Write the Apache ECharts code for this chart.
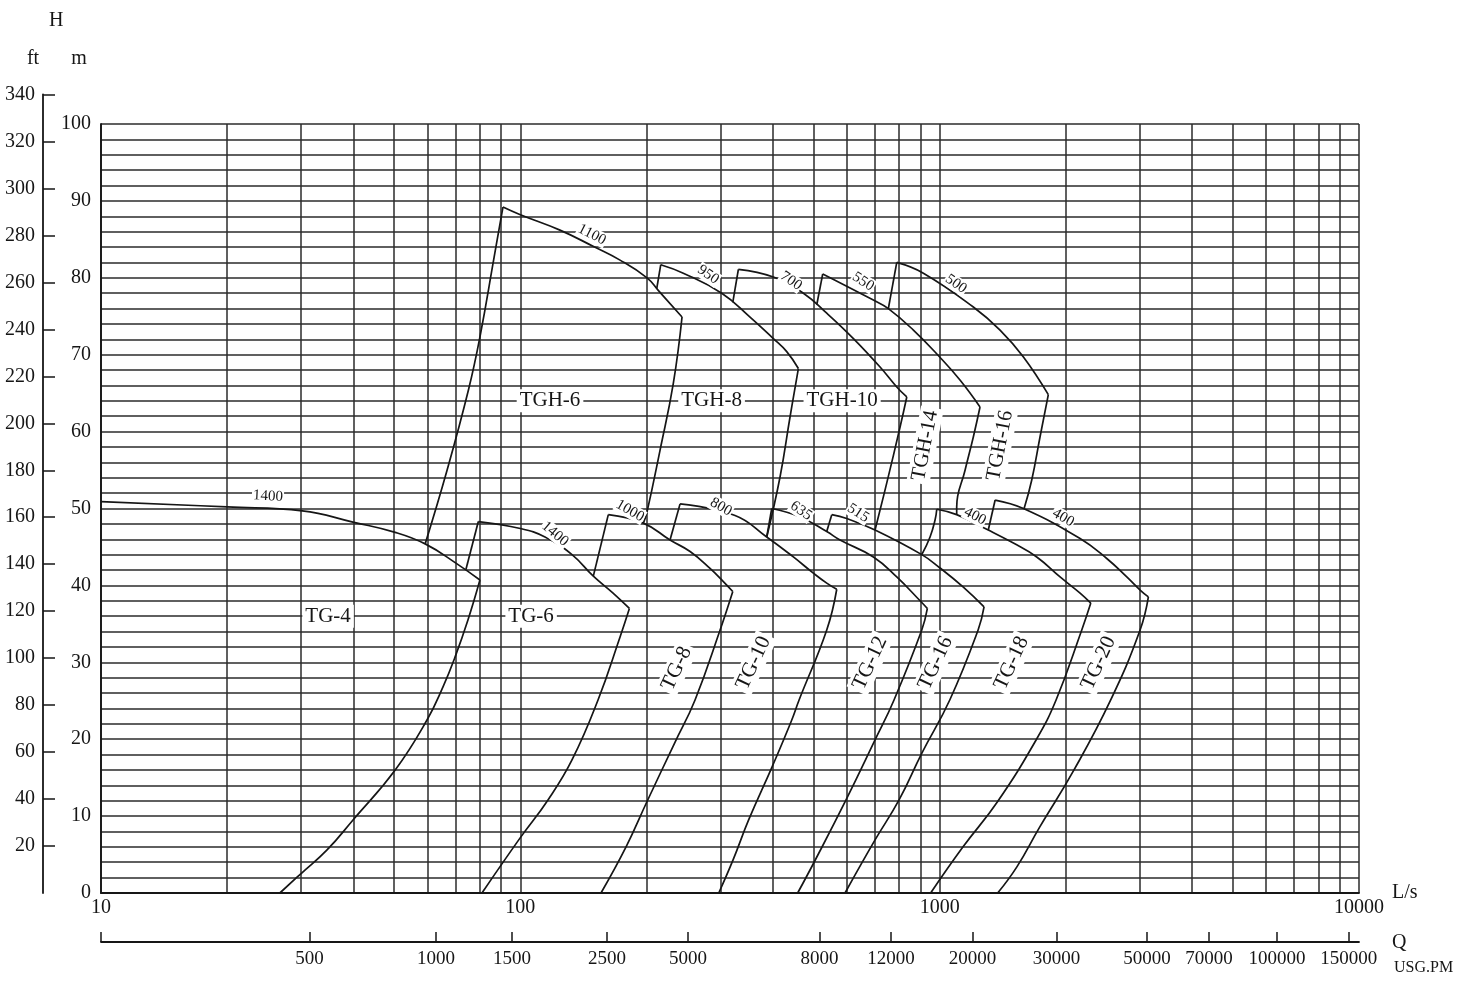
<!DOCTYPE html>
<html><head><meta charset="utf-8">
<script src="https://cdn.jsdelivr.net/npm/echarts@6/dist/echarts.min.js"></script>
<style>html,body{margin:0;padding:0;background:#fff}#c{width:1461px;height:994px}</style>
</head><body><div id="c"></div>
<script>
// ---------- axis tick data ----------
const xGridValues = [10,20,30,40,50,60,70,80,90,100,200,300,400,500,600,700,800,900,1000,2000,3000,4000,5000,6000,7000,8000,9000,10000];
const xLabelValues = [10,100,1000,10000];
const usgLabels = ['500','1000','1500','2500','5000','8000','12000','20000','30000','50000','70000','100000','150000'];
const usgTickLs = [31.4,62.9,95.5,161,251,517,765,1198,1900,3123,4390,6378,9456];

// ---------- pump curves [Q (L/s), H (m)] ----------
const tg4Top = [[10,50.9],[20,50.2],[30.2,49.7],[40.1,48.2],[50.3,46.9],[59.3,45.4],[70.2,42.9],[80.1,40.7]];
const tg4Right = [[80.1,40.7],[75.0,35.5],[69.9,30.7],[65.4,26.8],[59.9,22.5],[50.3,16.0],[39.9,9.5],[34.6,5.6],[30.1,2.6],[26.7,0]];

const tg6Left = [[74.2,42.1],[79.4,48.3]];
const tg6Top = [[79.4,48.3],[100,47.4],[114.5,46.3],[132.8,44.0],[149.3,41.2],[166.4,39.0],[182.0,37.0]];
const tg6Right = [[182.0,37.0],[172.9,33.3],[153.2,25.1],[132.8,17.3],[116.4,12.1],[100,7.2],[81.0,0]];

const tgh6Left = [[59.3,45.4],[66.9,55.0],[75.2,65.4],[80.1,72.3],[86.6,82.7],[90.9,89.2]];
const tgh6Top = [[90.9,89.2],[100,88.2],[124.3,86.2],[149.1,84.1],[172.9,82.3],[200.5,80.0],[213.0,78.4],[243.0,74.9]];
const tgh6Right = [[243.0,74.9],[231.7,66.3],[215.4,57.6],[200.2,49.4],[196.5,48.1]];

const tg8Left = [[149.3,41.2],[162.1,49.2]];
const tg8Top = [[162.1,49.2],[196.5,48.1],[227.5,45.9],[254.0,44.4],[283.4,42.2],[304.9,40.5],[321.1,39.2]];
const tg8Right = [[321.1,39.2],[299.5,34.2],[261.0,25.1],[233.3,19.5],[200.5,11.9],[178.7,6.0],[155.7,0]];

const tgh8Left = [[211.5,78.6],[216.2,81.7]];
const tgh8Top = [[216.2,81.7],[244.7,80.6],[302.2,78.0],[353.0,74.9],[401.2,72.1],[431.8,70.4],[460.3,68.2]];
const tgh8Right = [[460.3,68.2],[439.7,61.9],[416.2,54.1],[386.9,46.3]];

const tg10Left = [[227.5,45.9],[240.4,50.6]];
const tg10Top = [[240.4,50.6],[325.1,49.1],[386.9,46.3],[447.8,43.7],[499.7,41.6],[537.9,40.3],[568.3,39.5]];
const tg10Right = [[568.3,39.5],[537.9,34.2],[462.1,25.1],[443.9,22.5],[399.9,16.6],[350.3,9.5],[321.6,4.3],[297.3,0]];

const tgh10Left = [[321.1,76.8],[331.1,81.1]];
const tgh10Top = [[331.1,81.1],[401.2,80.1],[473.2,78.0],[537.9,75.4],[622.8,72.1],[720.9,68.4],[790.1,65.8],[834.8,64.5]];
const tgh10Right = [[834.8,64.5],[804.6,60.6],[747.7,53.3],[701.3,47.2]];

const tg12Left = [[386.9,46.3],[397.7,50.0]];
const tg12Top = [[397.7,50.0],[464.7,48.9],[537.9,47.0],[578.7,45.9],[694.9,43.7],[790.1,41.1],[898.0,38.0],[934.8,37.0]];
const tg12Right = [[934.8,37.0],[906.4,34.2],[778.3,25.1],[701.3,19.9],[598.0,12.1],[500.7,3.9],[458.5,0]];

const tg16Left = [[537.9,47.0],[552.9,49.2]];
const tg16Top = [[552.9,49.2],[600.3,48.7],[701.3,47.2],[906.4,44.0],[1000,42.3],[1137,39.8],[1276,37.2]];
const tg16Right = [[1276,37.2],[1235,34.2],[1057,25.1],[906.9,18.2],[800.1,12.1],[701.3,6.9],[594.7,0]];

const tgh14Left = [[509.2,76.5],[526.2,80.5]];
const tgh14Top = [[526.2,80.5],[694.9,77.1],[754.5,76.0],[865.6,73.2],[1000,69.7],[1118,66.7],[1248,63.2]];
const tgh14Right = [[1248,63.2],[1203,59.3],[1150,55.0],[1098,50.2],[1098,49.2]];

const tgh16Left = [[754.5,76.0],[790.1,82.0]];
const tgh16Top = [[790.1,82.0],[914.4,80.6],[1203,76.2],[1393,73.2],[1584,69.7],[1816,64.8]];
const tgh16Right = [[1816,64.8],[1735,59.3],[1658,53.7],[1590,50.0]];

const tg18Left = [[906.4,44.0],[948.6,46.3],[975.0,48.5],[984.2,49.9]];
const tg18Top = [[984.2,49.9],[1098,49.2],[1306,47.2],[1499,45.5],[1704,43.7],[1937,41.1],[2162,39.0],[2293,37.7]];
const tg18Right = [[2293,37.7],[2182,34.2],[1895,25.1],[1698,19.9],[1375,11.9],[1137,6.0],[951.7,0]];

const tg20Left = [[1306,47.2],[1356,51.1]];
const tg20Top = [[1356,51.1],[1584,50.0],[2162,46.1],[2503,43.5],[2794,41.1],[3006,39.4],[3146,38.5]];
const tg20Right = [[3146,38.5],[3006,34.2],[2558,25.1],[2091,16.0],[1733,8.6],[1528,3.4],[1375,0]];

// ---------- labels ----------
const speedText = ['1400','1100','950','700','550','500','1400','1000','800','635','515','400','400'];
const speedQ = [25.0,148.2,280.4,442.2,656.9,1094,121.0,182.6,301.1,467.2,639.1,1214.6,1970];
const speedH = [51.6,85.6,80.4,79.6,79.5,79.2,46.7,49.7,50.2,49.7,49.4,49.0,48.8];

const pumpNames = ['TG-4','TG-6','TGH-6','TGH-8','TGH-10','TGH-14','TGH-16','TG-8','TG-10','TG-12','TG-16','TG-18','TG-20'];
const pumpQ = [34.8,106.1,117.7,285.8,585.3,923,1393,236.0,359.8,682.3,977.7,1484,2393];
const pumpH = [36,36,64,64,64,58.2,58.2,29.2,29.9,29.9,29.9,29.9,29.9];

// ---------- styles (kept apart from data) ----------
const speedRotate = [-3,-27,-35,-35,-33,-35,-40,-30,-30,-35,-33,-28,-30];
const pumpRotate = [0,0,0,0,0,79,79,65,65,65,65,65,65];
const FONT = "'Liberation Serif', 'DejaVu Serif', serif";
const INK = '#161616';
const GRID = '#2b2b2b';

const curved = [
  tg4Top, tg4Right, tg6Top, tg6Right, tgh6Left, tgh6Top, tgh6Right,
  tg8Top, tg8Right, tgh8Top, tgh8Right, tg10Top, tg10Right,
  tgh10Top, tgh10Right, tg12Top, tg12Right, tg16Top, tg16Right,
  tgh14Top, tgh14Right, tgh16Top, tgh16Right, tg18Left, tg18Top, tg18Right,
  tg20Top, tg20Right
];
const straight = [tg6Left, tg8Left, tgh8Left, tg10Left, tgh10Left, tg12Left, tg16Left, tgh14Left, tgh16Left, tg20Left];

const series = [];
curved.forEach(d => series.push({type:'line', data:d, smooth:0.45, symbol:'none', silent:true, z:3,
  lineStyle:{color:INK, width:1.7}}));
straight.forEach(d => series.push({type:'line', data:d, smooth:false, symbol:'none', silent:true, z:3,
  lineStyle:{color:INK, width:1.7}}));

const labelBase = {show:true, position:'inside', formatter:p=>p.name, fontFamily:FONT, color:INK,
  textBorderWidth:0, textBorderColor:'transparent', textShadowBlur:0, backgroundColor:'#fff', opacity:1};

series.push({
  type:'scatter', symbolSize:0, silent:true, z:6, itemStyle:{color:'#fff', opacity:0},
  data: speedText.map((t,i)=>({name:t, value:[speedQ[i], speedH[i]], label:{rotate:speedRotate[i]}})),
  label:Object.assign({}, labelBase, {fontSize:15, padding:[0,1]})
});
series.push({
  type:'scatter', symbolSize:0, silent:true, z:6, itemStyle:{color:'#fff', opacity:0},
  data: pumpNames.map((t,i)=>({name:t, value:[pumpQ[i], pumpH[i]], label:{rotate:pumpRotate[i]}})),
  label:Object.assign({}, labelBase, {fontSize:21, padding:[1,3]})
});

function usgFormat(v){
  let best = 0, bd = Infinity;
  usgTickLs.forEach((t,i)=>{ const d = Math.abs(Math.log(t) - Math.log(v)); if (d < bd){bd=d; best=i;} });
  return usgLabels[best];
}

const chart = echarts.init(document.getElementById('c'), null, {renderer:'canvas'});
chart.setOption({
  animation:false,
  backgroundColor:'#fff',
  title:{text:'H', left:44, top:6, textStyle:{fontFamily:FONT, fontSize:20, fontWeight:'normal', color:INK}},
  grid:[
    {left:101, right:102, top:124, bottom:101, containLabel:false, outerBoundsMode:'none'},
    {left:43, top:94.5, bottom:101, width:20, containLabel:false, outerBoundsMode:'none'}
  ],
  xAxis:[
    {type:'log', logBase:10, min:10, max:10000, gridIndex:0, position:'bottom',
     axisLine:{show:true, onZero:false, lineStyle:{color:INK, width:1.8}},
     axisTick:{show:false, customValues:xGridValues},
     axisLabel:{customValues:xLabelValues, formatter:v=>String(Math.round(v)), margin:5,
       fontFamily:FONT, fontSize:20, color:INK},
     splitLine:{show:true, lineStyle:{color:GRID, width:1.5}},
     name:'L/s', nameLocation:'end', nameGap:33,
     nameTextStyle:{fontFamily:FONT, fontSize:20, color:INK, padding:[34,0,0,0]}},
    {type:'log', logBase:10, min:10, max:10000, gridIndex:0, position:'bottom', offset:49,
     axisLine:{show:true, onZero:false, lineStyle:{color:INK, width:1.8}},
     axisTick:{show:true, inside:true, length:10, customValues:[10].concat(usgTickLs), lineStyle:{color:INK, width:1.5}},
     axisLabel:{customValues:usgTickLs, formatter:usgFormat, margin:8, fontFamily:FONT, fontSize:19, color:INK},
     splitLine:{show:false},
     name:'{q|Q}\n{u|USG.PM}', nameLocation:'end', nameGap:33,
     nameTextStyle:{padding:[30,0,0,0], rich:{
       q:{fontFamily:FONT, fontSize:20, color:INK, lineHeight:22},
       u:{fontFamily:FONT, fontSize:16, color:INK, lineHeight:28, padding:[0,0,0,2]}}}},
    {type:'value', gridIndex:1, show:false, min:0, max:1}
  ],
  yAxis:[
    {type:'value', min:0, max:100, interval:10, gridIndex:0,
     axisLine:{show:true, onZero:false, lineStyle:{color:INK, width:1.8}},
     axisTick:{show:false}, minorTick:{show:false, splitNumber:5},
     splitLine:{show:true, lineStyle:{color:GRID, width:1.5}},
     minorSplitLine:{show:true, lineStyle:{color:GRID, width:1.5}},
     axisLabel:{margin:10, fontFamily:FONT, fontSize:20, color:INK},
     name:'m', nameLocation:'end', nameGap:55,
     nameTextStyle:{fontFamily:FONT, fontSize:20, color:INK, padding:[0,44,0,0]}},
    {type:'value', min:0, max:340, interval:20, gridIndex:1, position:'left',
     axisLine:{show:true, onZero:false, lineStyle:{color:INK, width:1.8}},
     axisTick:{show:true, inside:true, length:12, lineStyle:{color:INK, width:1.5}},
     axisLabel:{showMinLabel:false, margin:8, fontFamily:FONT, fontSize:20, color:INK},
     splitLine:{show:false},
     name:'ft', nameLocation:'end', nameGap:26,
     nameTextStyle:{fontFamily:FONT, fontSize:20, color:INK, padding:[0,20,0,0]}}
  ],
  series: series
});
</script></body></html>
